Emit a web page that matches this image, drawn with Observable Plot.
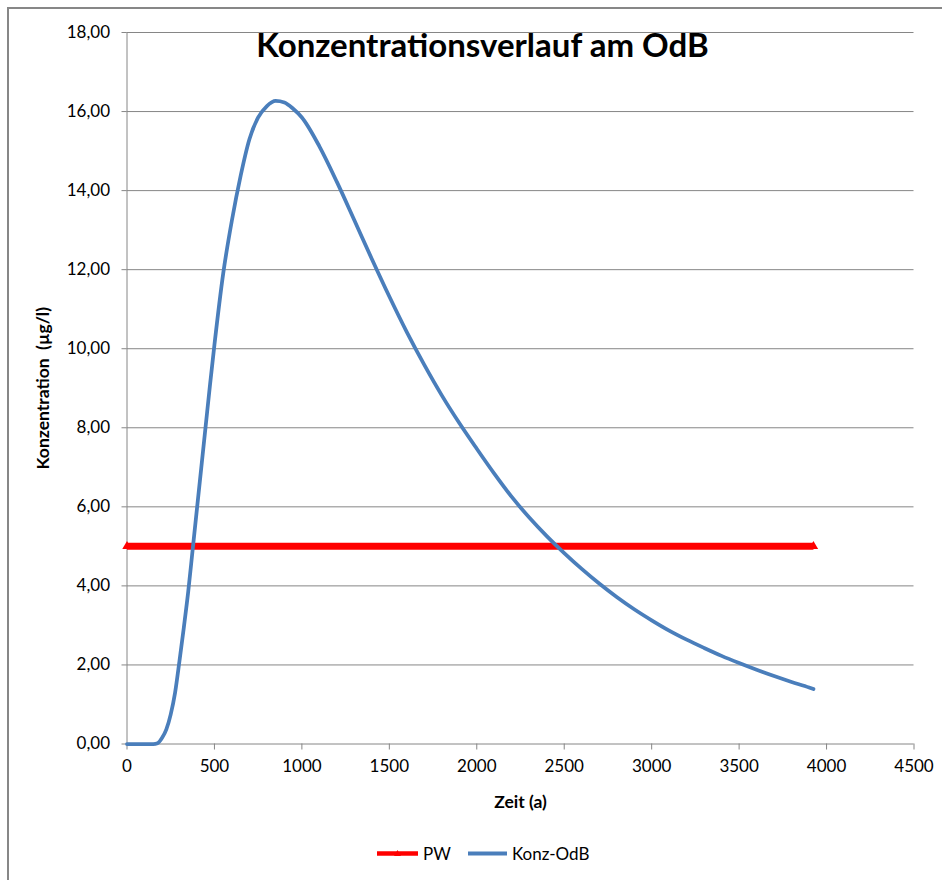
<!DOCTYPE html>
<html>
<head>
<meta charset="utf-8">
<script src="https://cdn.jsdelivr.net/npm/d3@7"></script>
<script src="https://cdn.jsdelivr.net/npm/@observablehq/plot@0.6"></script>
<style>
  html, body { margin: 0; padding: 0; background: #fff; overflow: hidden; }
  #wrap { position: relative; width: 942px; height: 880px; overflow: hidden; font-family: Lato, "Open Sans", sans-serif; }
  #frame { position: absolute; left: 7px; top: 7px; width: 1000px; height: 1000px; border: 2px solid #878787; box-sizing: border-box; pointer-events: none; }
  #chart { position: absolute; left: 0; top: 0; }
  #title { position: absolute; left: 482.5px; top: 28px; transform: translateX(-50%); font-size: 33px; line-height: 33px; font-weight: bold; color: #000; white-space: nowrap; }
  .leg { position: absolute; font-size: 17px; line-height: 17px; color: #000; white-space: nowrap; }
  .sw { position: absolute; }
  g[aria-label="y-axis label"] text, g[aria-label="x-axis label"] text { font-weight: bold; white-space: pre; font-size: 17.5px; }
</style>
</head>
<body>
<div id="wrap">
  <div id="chart"></div>
  <div id="frame"></div>
  <div id="title">Konzentrationsverlauf am OdB</div>
  <svg class="sw" style="left:376px;top:848px" width="43" height="11">
    <line x1="1" y1="5.5" x2="42" y2="5.5" stroke="#FF0000" stroke-width="4.5"/>
    <path d="M21.5,2 L25,8 L18,8 Z" fill="#FF0000"/>
  </svg>
  <div class="leg" style="left:423px;top:845px">PW</div>
  <svg class="sw" style="left:467px;top:848px" width="41" height="11">
    <line x1="1" y1="5.5" x2="40" y2="5.5" stroke="#4A7EBB" stroke-width="4"/>
  </svg>
  <div class="leg" style="left:512px;top:845px">Konz-OdB</div>
</div>
<script>
// Zeit (a)
const konzTime = [0,50,100,150,175,200,225,250,275,300,325,350,375,400,425,450,475,500,550,600,650,700,750,800,850,900,950,1000,1100,1200,1300,1400,1500,1600,1700,1800,1900,2000,2100,2200,2300,2400,2500,2600,2700,2800,2900,3000,3100,3200,3300,3400,3500,3600,3700,3800,3900,3925];
// Konz-OdB (µg/l)
const konzValue = [0,0,0,0,0.02,0.15,0.37,0.75,1.3,2.1,2.95,3.85,4.9,5.95,7.0,8.05,9.1,10.1,11.9,13.25,14.38,15.3,15.85,16.14,16.27,16.23,16.07,15.85,15.12,14.22,13.25,12.27,11.32,10.42,9.59,8.82,8.12,7.47,6.84,6.25,5.73,5.26,4.83,4.43,4.06,3.72,3.41,3.13,2.87,2.64,2.43,2.23,2.05,1.88,1.72,1.57,1.43,1.39];
// PW (Prüfwert)
const pwTime = [0, 3925];
const pwValue = [5, 5];
// tick labels
const xTicks = [0,500,1000,1500,2000,2500,3000,3500,4000,4500];
const yTicks = [0,2,4,6,8,10,12,14,16,18];

const konz = konzTime.map((t, i) => ({t, v: konzValue[i]}));
const pw = pwTime.map((t, i) => ({t, v: pwValue[i]}));
const fmtY = d => d.toFixed(2).replace(".", ",");
const gridColor = "#868686";

const chart = Plot.plot({
  width: 942,
  height: 820,
  marginLeft: 126.5,
  marginRight: 28.5,
  marginTop: 32,
  marginBottom: 76.5,
  style: {fontFamily: "Lato, 'Open Sans', sans-serif", fontSize: "17px", background: "transparent", color: "#000", overflow: "visible"},
  x: {domain: [0, 4500]},
  y: {domain: [0, 18]},
  marks: [
    Plot.gridY(yTicks.filter(d => d > 0), {stroke: gridColor, strokeOpacity: 1}),
    Plot.ruleX([0], {stroke: gridColor}),
    Plot.ruleY([0], {stroke: gridColor}),
    Plot.axisY(yTicks, {tickSize: 5, tickPadding: 12, tickFormat: fmtY, stroke: gridColor, fill: "#000",
      label: "Konzentration  (µg/l)", labelAnchor: "center", labelOffset: 90, labelArrow: false}),
    Plot.axisX(xTicks, {tickSize: 6, tickPadding: 10, tickFormat: d => String(d), stroke: gridColor, fill: "#000",
      label: "Zeit (a)", labelAnchor: "center", labelOffset: 64, labelArrow: false}),
    Plot.line(pw, {x: "t", y: "v", stroke: "#FF0000", strokeWidth: 7, strokeLinecap: "butt"}),
    Plot.dot(pw, {x: "t", y: "v", symbol: "triangle", r: 3.5, fill: "#FF0000"}),
    Plot.line(konz, {x: "t", y: "v", stroke: "#4A7EBB", strokeWidth: 3.75, curve: "monotone-x"})
  ]
});
document.getElementById("chart").appendChild(chart);
</script>
</body>
</html>
